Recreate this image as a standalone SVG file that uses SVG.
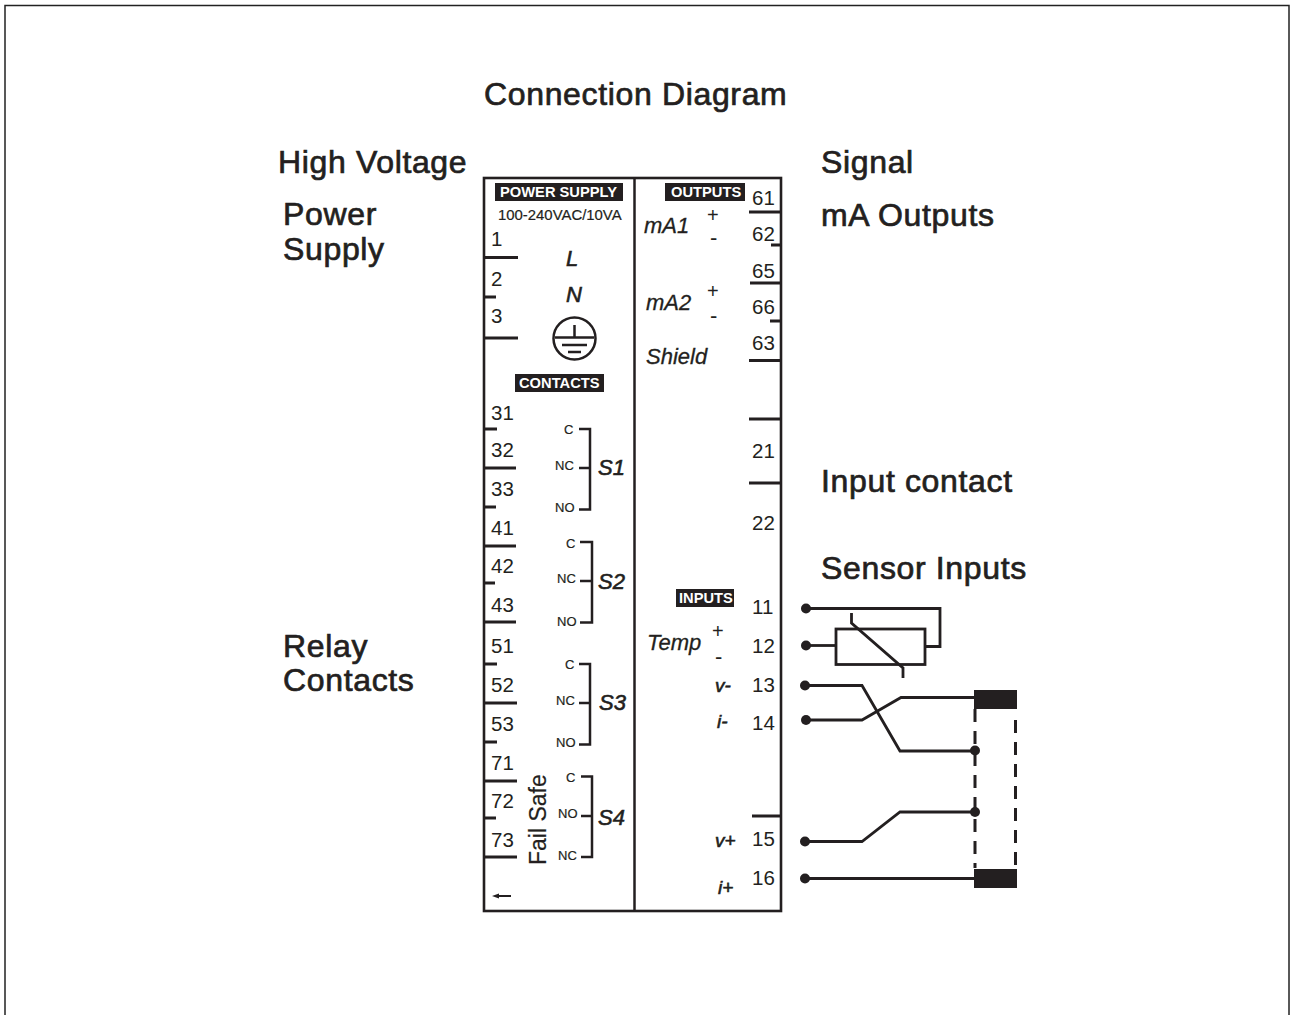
<svg xmlns="http://www.w3.org/2000/svg" width="1290" height="1015" viewBox="0 0 1290 1015">
<style>
text{font-family:"Liberation Sans",Arial,sans-serif;fill:#231f20}
.h{font-size:32px;letter-spacing:0.65px;stroke:#231f20;stroke-width:0.7}
.n{font-size:20.500px}
.i{font-size:22px;font-style:italic;stroke:#231f20;stroke-width:0.3}
.ib{font-size:22px;font-style:italic;stroke:#231f20;stroke-width:0.6}
.v{font-size:19px;font-style:italic;stroke:#231f20;stroke-width:0.6}
.p{font-size:22px}
.s{font-size:13px;stroke:#231f20;stroke-width:0.2}
.b{font-size:14.700px;font-weight:bold;fill:#fff}
.l{stroke:#231f20;stroke-width:2.5;fill:none}
.t{stroke:#231f20;stroke-width:3;fill:none}
.w{stroke:#231f20;stroke-width:2.8;fill:none}
.d{fill:#231f20}
.k{fill:#231f20}
</style>
<rect x="5" y="5.500" width="1284" height="1012" fill="#fff" stroke="#222" stroke-width="1.500"/>
<g id="titles">
<text class="h" x="484" y="105">Connection Diagram</text>
<text class="h" x="278" y="173">High Voltage</text>
<text class="h" x="283" y="225">Power</text>
<text class="h" x="283" y="260">Supply</text>
<text class="h" x="283" y="657">Relay</text>
<text class="h" x="283" y="691">Contacts</text>
<text class="h" x="821" y="173">Signal</text>
<text class="h" x="821" y="226">mA Outputs</text>
<text class="h" x="821" y="492">Input contact</text>
<text class="h" x="821" y="579">Sensor Inputs</text>
</g>
<g id="panel">
<rect x="484" y="178" width="297" height="733" fill="none" stroke="#231f20" stroke-width="2.600"/>
<line class="l" x1="634.500" y1="178" x2="634.500" y2="911"/>
</g>
<g id="headers">
<rect class="k" x="495" y="183" width="128" height="18"/><text class="b" x="500" y="197">POWER SUPPLY</text>
<rect class="k" x="665" y="183" width="80" height="18"/><text class="b" x="671" y="197">OUTPUTS</text>
<rect class="k" x="515" y="374" width="89" height="18"/><text class="b" x="519" y="388">CONTACTS</text>
<rect class="k" x="676" y="589" width="58" height="18"/><text class="b" x="679" y="603">INPUTS</text>
<text x="498" y="220" style="font-size:14.900px;stroke:#231f20;stroke-width:0.2">100-240VAC/10VA</text>
</g>
<g id="left-terminals">
<text class="n" x="491" y="246">1</text><text class="n" x="491" y="286">2</text><text class="n" x="491" y="323">3</text>
<path class="t" d="M484 257.500H518M484 297H496M484 338H518"/>
<text class="n" x="491" y="420">31</text><text class="n" x="491" y="457">32</text><text class="n" x="491" y="496">33</text><text class="n" x="491" y="535">41</text><text class="n" x="491" y="573">42</text><text class="n" x="491" y="612">43</text><text class="n" x="491" y="653">51</text><text class="n" x="491" y="692">52</text><text class="n" x="491" y="731">53</text><text class="n" x="491" y="770">71</text><text class="n" x="491" y="808">72</text><text class="n" x="491" y="847">73</text>
<path class="t" d="M484 429H497M484 468H516M484 507H496M484 546H516M484 583H495M484 622H516M484 664H497M484 703H517M484 742H497M484 781H517M484 818H496M484 857H517"/>
</g>
<g id="power-labels">
<text class="ib" x="566" y="266">L</text><text class="ib" x="566" y="302">N</text>
<circle class="l" cx="574.500" cy="338.500" r="21"/>
<path class="l" d="M574.500 325V337M555 337.500H594M562 345H587M568 352H581"/>
</g>
<g id="s1"><text class="s" x="564" y="434">C</text><text class="s" x="555" y="470">NC</text><text class="s" x="555" y="512">NO</text><path class="l" d="M579 429H590V509.500H579M579 468H590"/><text class="ib" x="598" y="475">S1</text></g>
<g id="s2"><text class="s" x="566" y="548">C</text><text class="s" x="557" y="583">NC</text><text class="s" x="557" y="626">NO</text><path class="l" d="M580 542H592V622.500H580M580 581H592"/><text class="ib" x="598" y="589">S2</text></g>
<g id="s3"><text class="s" x="565" y="669">C</text><text class="s" x="556" y="705">NC</text><text class="s" x="556" y="747">NO</text><path class="l" d="M579 664H590V744.500H579M579 703H590"/><text class="ib" x="599" y="710">S3</text></g>
<g id="s4"><text class="s" x="566" y="782">C</text><text class="s" x="558" y="818">NO</text><text class="s" x="558" y="860">NC</text><path class="l" d="M581 776.500H592V857H581M581 816H592"/><text class="ib" x="598" y="825">S4</text></g>
<text x="546" y="865" transform="rotate(-90 546 865)" style="font-size:23px;stroke:#231f20;stroke-width:0.2">Fail Safe</text>
<path class="d" d="M492 896L499 893.500V895H511V897H499V898.500Z"/>
<g id="right-labels">
<text class="i" x="644" y="233">mA1</text><text class="i" x="646" y="310">mA2</text><text class="i" x="646" y="364">Shield</text><text class="i" x="647" y="650">Temp</text>
<text class="p" x="707" y="222" style="font-size:20px">+</text><text class="p" x="710" y="245">-</text>
<text class="p" x="707" y="298" style="font-size:20px">+</text><text class="p" x="710" y="323">-</text>
<text class="p" x="712" y="638" style="font-size:20px">+</text><text class="p" x="715" y="664">-</text>
<text class="v" x="715" y="692">v-</text><text class="v" x="717" y="728">i-</text><text class="v" x="715" y="847">v+</text><text class="v" x="718" y="894">i+</text>
</g>
<g id="right-terminals">
<text class="n" x="752" y="205">61</text><text class="n" x="752" y="241">62</text><text class="n" x="752" y="278">65</text><text class="n" x="752" y="314">66</text><text class="n" x="752" y="350">63</text><text class="n" x="752" y="458">21</text><text class="n" x="752" y="530">22</text>
<path class="t" d="M749 212H781M771 245H781M750 283H781M770 321H781M749 360.500H781M749 419H781M749 483H781M752 816H781"/>
<text class="n" x="752" y="614">11</text><text class="n" x="752" y="653">12</text><text class="n" x="752" y="692">13</text><text class="n" x="752" y="730">14</text><text class="n" x="752" y="846">15</text><text class="n" x="752" y="885">16</text>
</g>
<g id="connectors">
<path class="w" d="M806 608.500H940V646.500H925"/>
<path class="w" d="M806 645.500H836"/>
<rect class="w" x="836" y="629" width="89" height="35.500"/>
<path class="w" d="M851.500 613V623L903 668V678"/>
<path class="w" d="M805 685.500H862L900 751H975"/>
<path class="w" d="M806 720H862L901 697.500H975"/>
<path class="w" d="M805 841.500H862L900 812H975"/>
<path class="w" d="M805 878.500H975"/>
<path class="w" stroke-dasharray="13 9" style="stroke-width:3" d="M975 709V868"/>
<path class="w" stroke-dasharray="13 9" style="stroke-width:3" d="M1015.500 720V870"/>
<rect class="k" x="974" y="690" width="43" height="19"/>
<rect class="k" x="974" y="869" width="43" height="19"/>
<g class="d"><circle cx="806" cy="608.500" r="5"/><circle cx="806" cy="645.500" r="5"/><circle cx="805" cy="685.500" r="5"/><circle cx="806" cy="720" r="5"/><circle cx="805" cy="841.500" r="5"/><circle cx="805" cy="878.500" r="5"/><circle cx="975" cy="750.500" r="5"/><circle cx="975" cy="812" r="5"/></g>
</g>
</svg>
